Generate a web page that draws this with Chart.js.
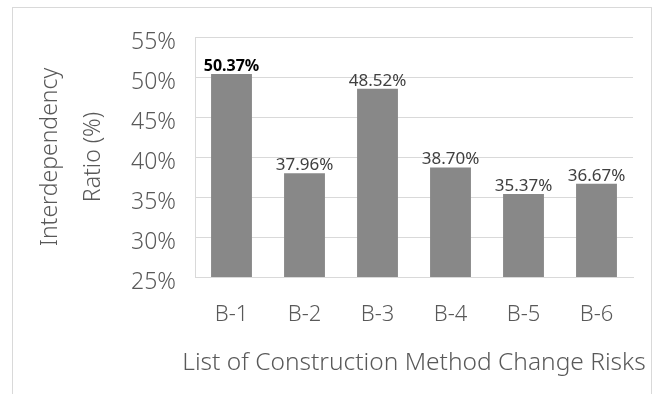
<!DOCTYPE html>
<html>
<head>
<meta charset="utf-8">
<script src="https://cdn.jsdelivr.net/npm/chart.js@4"></script>
<style>
  body { margin: 0; background: #fff; }
  #frame { position: absolute; left: 12px; top: 7px; width: 638px; height: 400px; border: 1px solid #d9d9d9; }
  #wrap { position: absolute; left: 0; top: 0; width: 655px; height: 394px; }
</style>
</head>
<body>
<div id="frame"></div>
<div id="wrap"><canvas id="RiskChart"></canvas></div>
<script>
// Interdependency ratio per risk
const riskLabels = ['B-1', 'B-2', 'B-3', 'B-4', 'B-5', 'B-6'];
const ratioValues = [50.37, 37.96, 48.52, 38.70, 35.37, 36.67];
const yTicks = [25, 30, 35, 40, 45, 50, 55];
const xTitle = 'List of Construction Method Change Risks';

const FONT = "'Noto Sans', 'Open Sans', sans-serif";

// value labels above bars (first one bold)
const barLabels = {
  id: 'barLabels',
  afterDatasetsDraw(chart) {
    const ctx = chart.ctx;
    const meta = chart.getDatasetMeta(0);
    ctx.save();
    ctx.textAlign = 'center';
    ctx.textBaseline = 'alphabetic';
    meta.data.forEach((bar, i) => {
      ctx.font = i === 0 ? 'bold 16px ' + FONT : '17px ' + FONT;
      ctx.fillStyle = i === 0 ? '#000000' : '#404040';
      ctx.fillText(ratioValues[i].toFixed(2) + '%', bar.x, bar.y - 3);
    });
    ctx.restore();
  }
};

// x title drawn by hand so it may run wider than the plot area (like the original)
const xTitlePlugin = {
  id: 'xTitlePlugin',
  afterDraw(chart) {
    const ctx = chart.ctx;
    const area = chart.chartArea;
    ctx.save();
    ctx.font = '300 24.5px ' + FONT;
    ctx.fillStyle = '#595959';
    ctx.textAlign = 'center';
    ctx.textBaseline = 'middle';
    ctx.fillText(xTitle, (area.left + area.right) / 2, 363);
    ctx.restore();
  }
};

const dataRisk = {
  labels: riskLabels,
  datasets: [{
    data: ratioValues,
    backgroundColor: '#888888',
    barPercentage: 0.56,
    categoryPercentage: 1
  }]
};

const configRisk = {
  type: 'bar',
  data: dataRisk,
  plugins: [barLabels, xTitlePlugin],
  options: {
    responsive: true,
    maintainAspectRatio: false,
    animation: false,
    layout: { padding: { top: 37, right: 22, bottom: 0, left: 0 } },
    plugins: {
      legend: { display: false },
      tooltip: { enabled: false }
    },
    scales: {
      x: {
        grid: { display: false },
        border: { display: true, color: '#d9d9d9', width: 1 },
        ticks: { color: '#595959', font: { family: FONT, size: 22, weight: 300 }, padding: 17 },
        afterFit(scale) { scale.height = 117; }
      },
      y: {
        min: 25,
        max: 55,
        afterBuildTicks(scale) { scale.ticks = yTicks.map(v => ({ value: v })); },
        grid: { color: '#d9d9d9', lineWidth: 1, drawTicks: false },
        border: { display: true, color: '#d9d9d9', width: 1 },
        ticks: {
          color: '#595959',
          font: { family: FONT, size: 23, weight: 300 },
          padding: 19,
          labelOffset: 5,
          callback: v => v + '%'
        },
        title: {
          display: true,
          text: ['Interdependency', 'Ratio (%)'],
          color: '#595959',
          font: { family: FONT, size: 23, weight: 300, lineHeight: 1.87 },
          padding: { top: 29, bottom: 0 }
        },
        afterFit(scale) { scale.width = 195; }
      }
    }
  }
};

const Risk_Chart = new Chart(
  document.getElementById('RiskChart'),
  configRisk
);
</script>
</body>
</html>
